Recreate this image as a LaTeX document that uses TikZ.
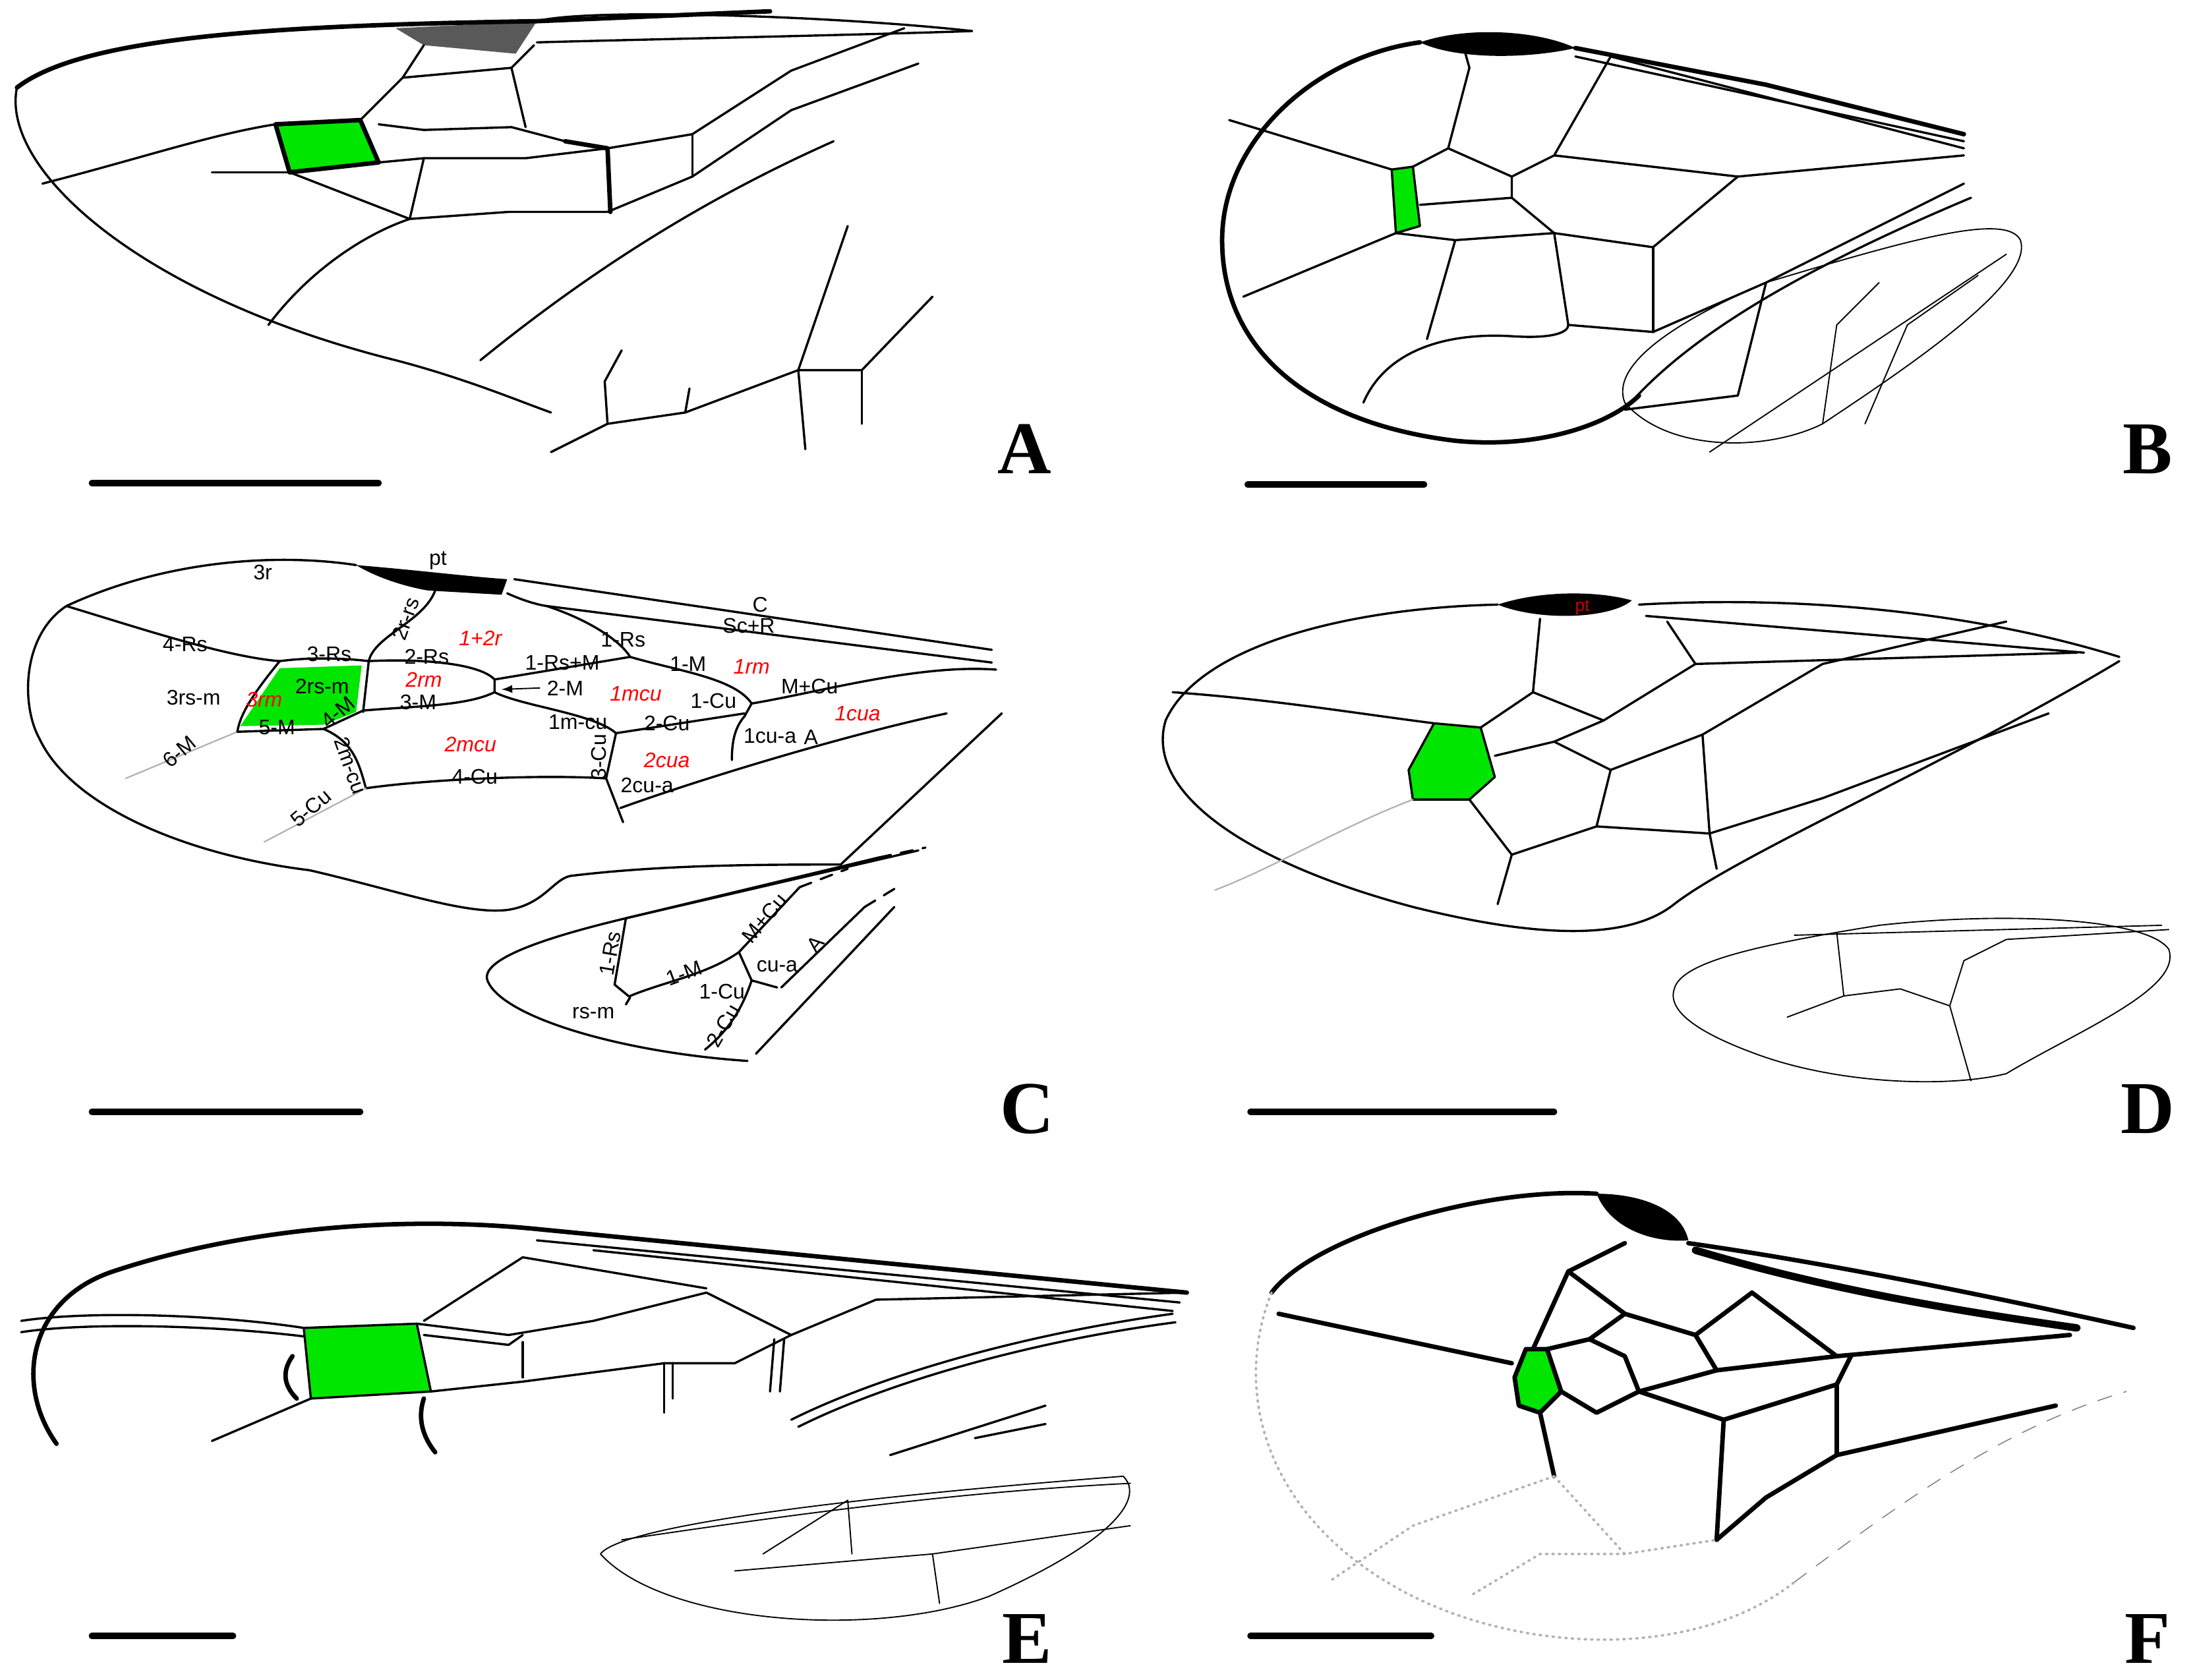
\documentclass[tikz,border=0pt]{standalone}
\usepackage{fontspec}
\setmainfont{Liberation Serif}
\newfontfamily\labf{Liberation Sans}
\begin{document}
\begin{tikzpicture}[x=0.02cm,y=-0.02cm,line join=round,line cap=round,
 v/.style={line width=0.9pt},
 vt/.style={line width=1.8pt},
 vx/.style={line width=3pt},
 thin/.style={line width=0.5pt},
 gr/.style={line width=0.6pt,gray!60},
 cell/.style={fill={rgb,255:red,0;green,230;blue,0},draw=none},
 lab/.style={font=\labf\fontsize{8.5}{8.5}\selectfont,inner sep=0pt},
 rl/.style={lab,text=red,font=\labf\itshape\fontsize{8.5}{8.5}\selectfont},
 letter/.style={font=\bfseries\fontsize{30}{30}\selectfont,inner sep=0pt},
 bar/.style={line width=2.5pt}]
\useasboundingbox (0,0) rectangle (1555,1189);
\fill[white] (0,0) rectangle (1555,1189);
% ================= A =================
\fill[cell] (195,88)--(255,85)--(268,115)--(205,122)--cycle;
\fill[gray!70!black] (280,20)--(380,15)--(365,38)--(300,32)--cycle;
\draw[vt] (12,62) .. controls (60,25) and (200,18) .. (380,15) -- (545,8);
\draw[v] (380,15) .. controls (420,5) and (600,12) .. (688,22);
\draw[v] (380,30) .. controls (450,28) and (600,25) .. (688,22);
\draw[v] (12,62) .. controls (0,120) and (100,210) .. (280,255) .. controls (330,268) and (370,285) .. (390,292);
\draw[vt] (195,88)--(255,85)--(268,115)--(205,122)--cycle;
\draw[v] (30,130) .. controls (100,112) and (150,95) .. (195,88);
\draw[v] (150,122)--(205,122);
\draw[v] (255,85)--(285,55)--(300,32);
\draw[v] (285,55)--(362,48)--(378,32);
\draw[v] (268,88)--(300,92)--(362,90)--(400,100);
\draw[v] (362,48)--(372,90);
\draw[v] (268,115)--(300,112)--(372,112)--(430,105)--(490,95)--(560,50)--(640,20);
\draw[v] (300,112)--(290,155);
\draw[v] (205,122)--(290,155)--(360,150)--(430,150);
\draw[vt] (400,100)--(430,105)--(432,150);
\draw[v] (190,230) .. controls (220,190) and (260,165) .. (290,155);
\draw[v] (430,150)--(490,125)--(560,78)--(650,45);
\draw[v] (490,95)--(490,125);
\draw[v] (340,255) .. controls (420,190) and (500,140) .. (590,100);
\draw[v] (390,320)--(430,300)--(485,292)--(565,262)--(610,262)--(660,210);
\draw[v] (430,300)--(428,270)--(440,248);
\draw[v] (485,292)--(488,275);
\draw[v] (565,262)--(600,160);
\draw[v] (565,262)--(570,318);
\draw[v] (610,262)--(610,300);
\draw[bar] (65,342)--(268,342);
\node[letter] (la) at (725,318) {A};
% ================= B =================
\fill[cell] (985,120)--(1000,118)--(1005,160)--(988,165)--cycle;
\fill[black] (1005,30) .. controls (1040,18) and (1090,22) .. (1115,34) .. controls (1080,42) and (1030,42) .. (1005,30);
\draw[vt] (1005,30) .. controls (930,40) and (865,100) .. (865,170) .. controls (865,250) and (930,300) .. (1030,312) .. controls (1090,318) and (1140,300) .. (1160,280);
\draw[vt] (1115,34) -- (1250,60) -- (1390,95);
\draw[v] (1115,40)--(1390,100);
\draw[v] (1140,40)--(1390,105);
\draw[v] (985,120)--(1000,118)--(1005,160)--(988,165)--cycle;
\draw[v] (870,85)--(985,120);
\draw[v] (1000,118)--(1025,105)--(1040,48)--(1035,30);
\draw[v] (1025,105)--(1070,125)--(1100,110)--(1140,40);
\draw[v] (1100,110)--(1230,125)--(1390,110);
\draw[v] (1005,145)--(1070,140)--(1070,125);
\draw[v] (1070,140)--(1100,165)--(1170,175)--(1230,125);
\draw[v] (1100,165)--(1110,230)--(1170,235)--(1250,200)--(1390,130);
\draw[v] (1170,175)--(1170,235);
\draw[v] (988,165)--(1030,170)--(1100,165);
\draw[v] (1030,170)--(1010,240);
\draw[v] (988,165)--(880,210);
\draw[v] (965,285) .. controls (980,250) and (1020,235) .. (1070,238) .. controls (1100,240) and (1110,235) .. (1110,230);
\draw[v] (1250,200)--(1230,280)--(1150,290);
\draw[v] (1150,290) .. controls (1200,230) and (1300,180) .. (1395,140);
\draw[thin] (1150,285) .. controls (1140,260) and (1180,230) .. (1250,200) .. controls (1350,170) and (1420,150) .. (1430,170) .. controls (1440,200) and (1350,260) .. (1290,300) .. controls (1250,320) and (1180,320) .. (1150,285);
\draw[thin] (1290,300)--(1300,230)--(1330,200);
\draw[thin] (1210,320)--(1300,260)--(1420,180);
\draw[thin] (1320,300)--(1350,230)--(1400,195);
\draw[bar] (883,343)--(1008,343);
\node[letter] (lb) at (1520,318) {B};
% ================= C =================
\fill[cell] (198,473)--(256,471)--(252,504)--(229,513)--(170,514)--cycle;
\fill[black] (252,400) .. controls (300,404) and (330,408) .. (359,410) -- (355,421) -- (303,418) .. controls (285,415) and (265,408) .. (252,400);
\draw[v] (252,400) .. controls (200,392) and (120,395) .. (47,429) .. controls (15,450) and (15,500) .. (28,523) .. controls (50,570) and (130,605) .. (219,616) .. controls (280,630) and (330,648) .. (360,644) .. controls (385,640) and (392,622) .. (404,620) .. controls (470,612) and (540,612) .. (595,612);
\draw[v] (709,505)--(595,612);
\draw[v] (364,410)--(702,460);
\draw[v] (359,420) .. controls (370,425) and (380,428) .. (387,429) -- (702,469);
\draw[v] (387,429) .. controls (420,440) and (440,455) .. (446,465);
\draw[v] (47,429) .. controls (100,445) and (160,465) .. (198,468);
\draw[v] (198,468) .. controls (220,465) and (245,466) .. (261,468);
\draw[v] (308,418) .. controls (300,440) and (265,450) .. (261,468) -- (257,504);
\draw[v] (261,468) .. controls (300,466) and (340,470) .. (350,481) -- (350,490);
\draw[v] (257,503) .. controls (290,500) and (330,500) .. (350,490);
\draw[v] (350,481)--(446,465);
\draw[v] (446,465) .. controls (480,475) and (520,480) .. (532,498);
\draw[v] (532,498) .. controls (580,490) and (650,470) .. (705,474);
\draw[v] (350,490) .. controls (370,500) and (420,505) .. (436,519);
\draw[v] (532,498) -- (527,507) .. controls (520,515) and (518,525) .. (518,538);
\draw[v] (436,519)--(527,505);
\draw[v] (436,519)--(429,551)--(441,582);
\draw[v] (259,558) .. controls (300,552) and (380,548) .. (429,551);
\draw[v] (229,516) .. controls (250,525) and (254,540) .. (259,558);
\draw[gr] (259,558) -- (187,596);
\draw[gr] (168,518) -- (89,551);
\draw[v] (198,468) .. controls (180,490) and (170,505) .. (168,518) -- (229,516) -- (257,503);
\draw[v] (439,572) .. controls (500,550) and (600,520) .. (670,505);
\draw[->,thin,>=latex] (382,487)--(355,488);
% C hind wing
\draw[v] (443,650)--(622,607);
\draw[v] (443,650)--(650,602);
\draw[v] (443,650) .. controls (380,665) and (340,680) .. (345,694) .. controls (355,720) and (440,745) .. (529,751);
\draw[v] (535,746)--(633,642);
\draw[v,dash pattern=on 5pt off 4pt] (622,607)--(655,600);
\draw[v,dash pattern=on 5pt off 4pt] (566,628)--(600,615);
\draw[v,dash pattern=on 5pt off 4pt] (612,642)--(635,628);
\draw[v] (443,650)--(435,697)--(446,706)--(443,711);
\draw[v] (446,705) .. controls (470,695) and (500,690) .. (523,674) -- (566,628);
\draw[v] (523,674) -- (532,694) .. controls (525,715) and (515,730) .. (499,743);
\draw[v] (532,694)--(550,699);
\draw[v] (553,699)--(612,642);
% C labels
\node[lab] (tpt) at (310,397) {pt};
\node[lab] (t3r) at (186,405) {3r};
\node[lab] (tC) at (538,428) {C};
\node[lab] (tScR) at (530,443) {Sc+R};
\node[lab] (t1Rs) at (441,453) {1-Rs};
\node[lab] (t4Rs) at (131,456) {4-Rs};
\node[lab] (t3Rs) at (233,463) {3-Rs};
\node[lab,rotate=70] (t2rrs) at (287,438) {2r-rs};
\node[lab] (t2Rs) at (302,465) {2-Rs};
\node[rl] (t12r) at (340,452) {1+2r};
\node[lab] (t1RsM) at (398,469) {1-Rs+M};
\node[lab] (t1M) at (487,470) {1-M};
\node[rl] (t1rm) at (532,472) {1rm};
\node[rl] (t2rm) at (300,481) {2rm};
\node[lab] (t2M) at (400,487) {2-M};
\node[rl] (t1mcu) at (450,491) {1mcu};
\node[lab] (t3M) at (296,497) {3-M};
\node[lab] (t1mcuv) at (409,511) {1m-cu};
\node[lab] (t1Cu) at (505,496) {1-Cu};
\node[lab] (tMCu) at (573,486) {M+Cu};
\node[rl] (t1cua) at (607,505) {1cua};
\node[lab] (t3rsm) at (137,494) {3rs-m};
\node[rl] (t3rm) at (187,495) {3rm};
\node[lab] (t2rsm) at (228,486) {2rs-m};
\node[lab] (t5M) at (196,515) {5-M};
\node[lab,rotate=40] (t4M) at (239,504) {4-M};
\node[lab] (t2Cu) at (472,512) {2-Cu};
\node[lab] (t1cua2) at (545,521) {1cu-a};
\node[lab] (tA) at (574,522) {A};
\node[rl] (t2mcu) at (333,527) {2mcu};
\node[lab,rotate=-70] (t2mcuv) at (248,542) {2m-cu};
\node[lab,rotate=90] (t3Cu) at (424,536) {3-Cu};
\node[rl] (t2cua) at (472,538) {2cua};
\node[lab] (t4Cu) at (336,550) {4-Cu};
\node[lab] (t2cua2) at (458,556) {2cu-a};
\node[lab,rotate=40] (t6M) at (127,532) {6-M};
\node[lab,rotate=40] (t5Cu) at (220,572) {5-Cu};
\node[lab,rotate=80] (h1Rs) at (432,675) {1-Rs};
\node[lab] (hrsm) at (420,717) {rs-m};
\node[lab,rotate=20] (h1M) at (484,689) {1-M};
\node[lab] (h1Cu) at (511,702) {1-Cu};
\node[lab,rotate=60] (h2Cu) at (512,726) {2-Cu};
\node[lab,rotate=50] (hMCu) at (541,650) {M+Cu};
\node[lab] (hcua) at (550,684) {cu-a};
\node[lab,rotate=50] (hA) at (577,668) {A};
\draw[bar] (65,787)--(255,787);
\node[letter] (lc) at (727,785) {C};
% ================= D =================
\fill[cell] (1015,512)--(1048,515)--(1058,550)--(1040,566)--(1000,566)--(997,545)--cycle;
\fill[black] (1060,428) .. controls (1090,418) and (1130,418) .. (1155,425) .. controls (1140,438) and (1090,440) .. (1060,428);
\node[lab,text=red!80!black,font=\labf\fontsize{7}{7}\selectfont] (tdpt) at (1120,430) {pt};
\draw[v] (1060,428) .. controls (960,430) and (850,455) .. (825,510) .. controls (810,560) and (880,610) .. (1000,642) .. controls (1080,662) and (1150,668) .. (1185,640) .. controls (1230,605) and (1380,540) .. (1500,468);
\draw[v] (1160,428) .. controls (1300,420) and (1420,440) .. (1500,465);
\draw[v] (1165,436)--(1475,462);
\draw[v] (1015,512)--(1048,515)--(1058,550)--(1040,566)--(1000,566)--(997,545)--cycle;
\draw[v] (830,490) .. controls (900,495) and (960,505) .. (1015,512);
\draw[v] (1090,438)--(1085,490)--(1048,515);
\draw[v] (1085,490)--(1135,510)--(1200,470)--(1470,462);
\draw[v] (1200,470)--(1180,440);
\draw[v] (1058,535)--(1100,525)--(1135,510);
\draw[v] (1100,525)--(1140,545)--(1205,520)--(1290,470)--(1420,440);
\draw[v] (1140,545)--(1130,585)--(1070,605)--(1040,566);
\draw[v] (1205,520)--(1210,590)--(1215,615);
\draw[v] (1130,585)--(1210,590)--(1290,565)--(1450,505);
\draw[v] (1070,605)--(1060,640);
\draw[gr] (1000,566) .. controls (950,585) and (900,615) .. (860,630);
% D hind wing
\draw[thin] (1185,700) .. controls (1190,680) and (1250,668) .. (1330,655) .. controls (1420,645) and (1520,650) .. (1535,672) .. controls (1545,700) and (1470,730) .. (1420,760) .. controls (1380,770) and (1300,768) .. (1240,745) .. controls (1200,730) and (1180,715) .. (1185,700);
\draw[thin] (1300,660)--(1305,705)--(1345,700)--(1380,712)--(1390,680)--(1420,665)--(1535,658);
\draw[thin] (1305,705)--(1265,720);
\draw[thin] (1380,712)--(1395,765);
\draw[thin] (1270,662)--(1530,655);
\draw[bar] (885,787)--(1100,787);
\node[letter] (ld) at (1520,785) {D};
% ================= E =================
\fill[cell] (215,940)--(295,937)--(305,985)--(220,990)--cycle;
\draw[vt] (40,1022) .. controls (10,980) and (20,920) .. (80,900) .. controls (170,870) and (280,860) .. (380,870) -- (840,915);
\draw[v] (380,878)--(835,922);
\draw[v] (420,885)--(830,928);
\draw[v] (15,935) .. controls (60,928) and (150,930) .. (215,940);
\draw[v] (15,943) .. controls (60,936) and (150,938) .. (215,946);
\draw[v] (215,940)--(295,937)--(305,985)--(220,990)--cycle;
\draw[v] (150,1020)--(220,990);
\draw[v] (295,937)--(360,945)--(420,935)--(500,915)--(560,945)--(620,920)--(840,915);
\draw[v] (300,945)--(360,952)--(370,945);
\draw[v] (300,935)--(370,890)--(500,912);
\draw[v] (305,985)--(370,978)--(470,965)--(520,965)--(560,945);
\draw[v] (370,975)--(370,950);
\draw[v] (470,965)--(470,1000);
\draw[v] (476,965)--(476,990);
\draw[v] (548,948)--(545,985);
\draw[v] (555,948)--(552,985);
\draw[v] (560,1005) .. controls (620,975) and (720,945) .. (830,930);
\draw[v] (565,1010) .. controls (625,980) and (725,950) .. (832,936);
\draw[v] (630,1030)--(740,995);
\draw[v] (690,1018)--(740,1008);
\draw[vt] (207,960) .. controls (200,970) and (200,980) .. (210,990);
\draw[vt] (300,990) .. controls (295,1005) and (300,1018) .. (308,1028);
% E hind wing
\draw[thin] (425,1100) .. controls (440,1080) and (600,1060) .. (795,1045) .. controls (810,1060) and (790,1090) .. (700,1130) .. controls (620,1160) and (470,1150) .. (425,1100);
\draw[thin] (440,1090) .. controls (600,1066) and (700,1055) .. (800,1050);
\draw[thin] (540,1100)--(600,1062)--(603,1100);
\draw[thin] (520,1112)--(660,1100)--(800,1080);
\draw[thin] (660,1100)--(665,1135);
\draw[bar] (65,1158)--(165,1158);
\node[letter] (le) at (727,1160) {E};
% ================= F =================
\fill[cell] (1080,955)--(1095,955)--(1105,985)--(1090,1000)--(1075,995)--(1072,975)--cycle;
\fill[black] (1130,845) .. controls (1160,845) and (1190,855) .. (1195,878) .. controls (1170,880) and (1140,870) .. (1130,845);
\draw[vt] (900,915) .. controls (930,875) and (1050,840) .. (1130,845);
\draw[vx] (1200,885) .. controls (1300,915) and (1400,930) .. (1470,940);
\draw[vt] (1195,880) .. controls (1300,895) and (1420,920) .. (1510,940);
\draw[gr,dotted,line width=1pt] (900,915) .. controls (870,990) and (900,1080) .. (1000,1130) .. controls (1080,1170) and (1200,1175) .. (1270,1120);
\draw[gray,dash pattern=on 6pt off 5pt] (1270,1120) .. controls (1350,1060) and (1420,1010) .. (1505,985);
\draw[vt] (905,930)--(1070,965);
\draw[vt] (1080,955)--(1095,955)--(1105,985)--(1090,1000)--(1075,995)--(1072,975)--cycle;
\draw[vt] (1085,955)--(1110,900)--(1150,880);
\draw[vt] (1110,900)--(1150,930)--(1200,945);
\draw[vt] (1150,930)--(1125,948)--(1095,955);
\draw[vt] (1125,948)--(1150,960)--(1160,985);
\draw[vt] (1200,945)--(1240,915)--(1300,960)--(1465,945);
\draw[vt] (1200,945)--(1215,970)--(1160,985);
\draw[vt] (1160,985)--(1130,1000)--(1105,985);
\draw[vt] (1215,970)--(1300,960);
\draw[vt] (1160,985)--(1220,1005)--(1300,980)--(1310,960);
\draw[vt] (1220,1005)--(1215,1090)--(1250,1060)--(1300,1030)--(1455,995);
\draw[vt] (1300,980)--(1300,1030);
\draw[vt] (1090,1000)--(1100,1045);
\draw[gr,dotted,line width=1pt] (1100,1045)--(1000,1080)--(940,1120);
\draw[gr,dotted,line width=1pt] (1100,1045)--(1150,1100)--(1215,1090);
\draw[gr,dotted,line width=1pt] (1150,1100)--(1090,1100)--(1040,1130);
\draw[bar] (885,1158)--(1013,1158);
\node[letter] (lf) at (1520,1160) {F};
\end{tikzpicture}
\end{document}
